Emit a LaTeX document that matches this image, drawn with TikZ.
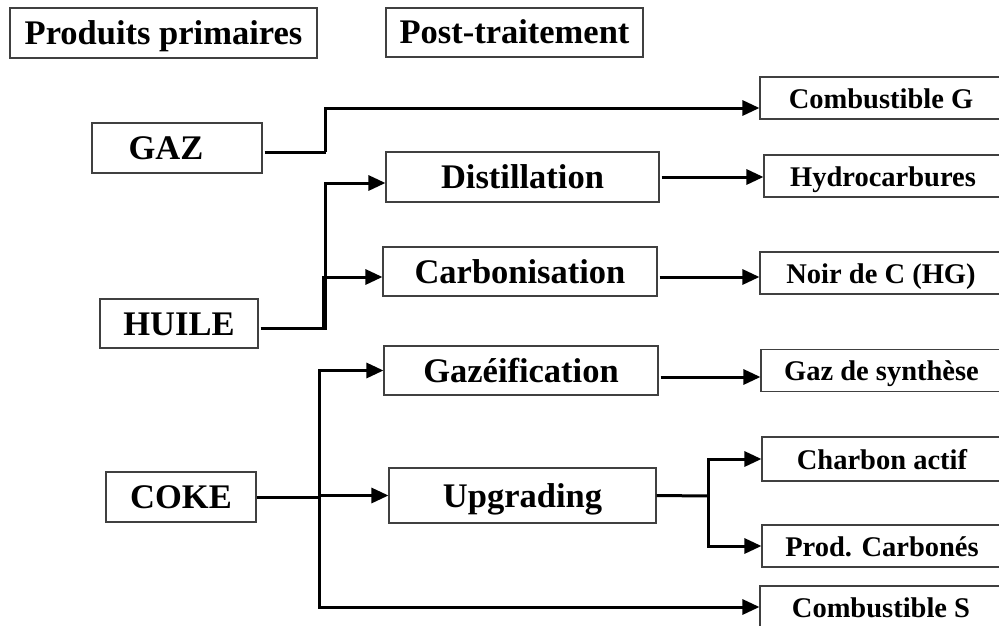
\documentclass[tikz,border=0pt]{standalone}
\usepackage{fontspec}
\setmainfont{Liberation Serif}
\usetikzlibrary{arrows.meta}
\begin{document}
\begin{tikzpicture}[x=1pt,y=-1pt,
  box/.style={draw=black!75, line width=1.1pt, inner sep=0pt,
    text height=23pt, text depth=0pt,
    font=\bfseries\fontsize{34.5}{36}\selectfont},
  midbox/.style={box, minimum width=274, minimum height=49},
  outbox/.style={box, minimum width=242, minimum height=42,
    text height=20pt, font=\bfseries\fontsize{28.5}{30}\selectfont},
  link/.style={line width=3pt},
  arr/.style={link, -{Triangle[length=17pt,width=15pt]}},
]
\useasboundingbox (0,0) rectangle (999,626);
\clip (0,0) rectangle (999,626);

% column headings
\node[box, minimum width=307, minimum height=50] (hprim) at (163.5,33) {Produits primaires};
\node[box, minimum width=257, minimum height=49] (hpost) at (514.5,32.5) {Post-traitement};

% primary products
\node[box, minimum width=170, minimum height=50] (gaz)   at (177,148)   {GAZ\kern22pt};
\node[box, minimum width=158, minimum height=49] (huile) at (179,323.5) {HUILE};
\node[box, minimum width=150, minimum height=50] (coke)  at (181,497)   {COKE};

% post-treatment steps
\node[midbox, minimum width=273, minimum height=50] (dist) at (522.5,177) {Distillation};
\node[midbox] (carb)  at (520,271.5) {Carbonisation};
\node[midbox] (gazei) at (521,370.5) {Gazéification};
\node[midbox, minimum width=267, minimum height=55] (upgr) at (522.5,495.5) {Upgrading};

% end products
\node[outbox] (combG) at (881,98) {Combustible G};
\node[outbox, minimum width=238] (hydro) at (883,176) {Hydrocarbures};
\node[outbox] (noir)  at (881,273)   {Noir de C (HG)};
\node[outbox, minimum width=241] (synth) at (881.5,370.5) {Gaz de synthèse};
\node[outbox, minimum width=240, minimum height=44] (charb) at (882,459) {Charbon actif};
\node[outbox, minimum width=240] (prod)  at (882,546) {Prod. Carbonés};
\node[outbox] (combS) at (881,607) {Combustible S};

% junction points
\coordinate (hj) at (325,328);
\coordinate (cj) at (319,497);
\coordinate (uj) at (708,496);

% GAZ
\draw[link] ([xshift=2pt,yshift=-4pt]gaz.east) -- ++(61,0) coordinate (gj);
\draw[arr] (gj) |- ([yshift=-10pt]combG.west);

% HUILE
\draw[arr] ([xshift=2pt,yshift=-4.5pt]huile.east) -- (hj) |- ([yshift=-6pt]dist.west);
\draw[arr] ([xshift=-2pt]hj) |- ([yshift=-5.5pt]carb.west);
\draw[arr] ([xshift=2pt]dist.east) -- (dist.east -| hydro.west);
\draw[arr] ([xshift=2pt,yshift=-5.5pt]carb.east) -- ([yshift=-5.5pt]carb.east -| noir.west);

% COKE
\draw[link] (coke.east) -- (cj);
\draw[arr] (cj) |- (gazei.west);
\draw[arr] (cj) |- (combS.west);
\draw[arr] (cj |- upgr.west) -- (upgr.west);
\draw[arr] ([xshift=2pt,yshift=-6.5pt]gazei.east) -- ([yshift=-6.5pt]gazei.east -| synth.west);

% Upgrading
\draw[link] (upgr.east) -- (uj);
\draw[arr] (uj) |- (charb.west);
\draw[arr] (uj) |- (prod.west);
\end{tikzpicture}
\end{document}
